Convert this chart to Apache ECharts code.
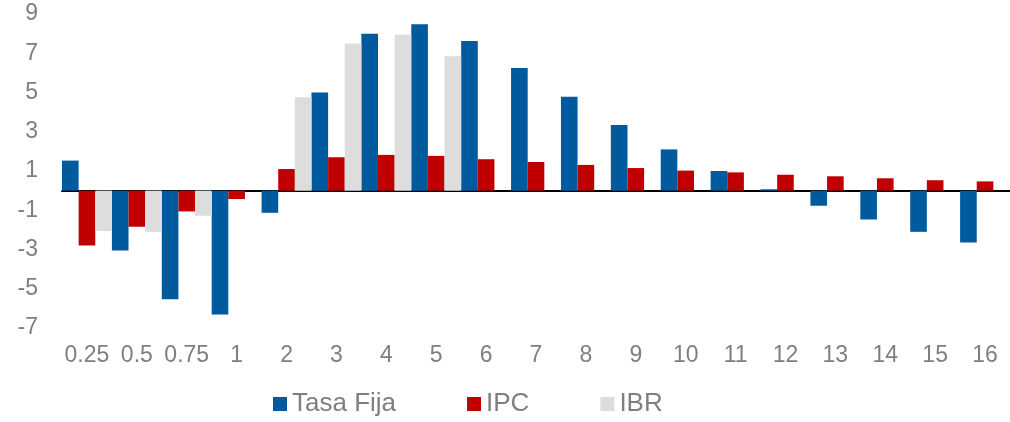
<!DOCTYPE html>
<html>
<head>
<meta charset="utf-8">
<script src="https://cdn.jsdelivr.net/npm/echarts@6/dist/echarts.min.js"></script>
<style>
  html, body { margin: 0; padding: 0; background: #fff; }
  #chart { width: 1010px; height: 422px; }
</style>
</head>
<body>
<div id="chart"></div>
<script>
// Plazos (años)
const categories = ['0.25', '0.5', '0.75', '1', '2', '3', '4', '5', '6', '7', '8', '9', '10', '11', '12', '13', '14', '15', '16'];

// Variación por nodo de la curva
const tasaFija = [1.53, -3.05, -5.53, -6.31, -1.13, 5.0, 7.99, 8.48, 7.62, 6.25, 4.78, 3.35, 2.1, 1.0, 0.07, -0.77, -1.47, -2.1, -2.64];
const ipc = [-2.79, -1.84, -1.06, -0.43, 1.1, 1.7, 1.82, 1.77, 1.6, 1.46, 1.31, 1.15, 1.02, 0.93, 0.81, 0.73, 0.63, 0.53, 0.47];
const ibr = [-2.06, -2.1, -1.28, null, 4.76, 7.5, 7.94, 6.85, null, null, null, null, null, null, null, null, null, null, null];

// Etiquetas del eje vertical
const yTickLabels = [-7, -5, -3, -1, 1, 3, 5, 7, 9];

const textColor = '#7f7f7f';
const font = 'Liberation Sans, Arial, sans-serif';

const chart = echarts.init(document.getElementById('chart'), null, { renderer: 'canvas' });

function bar(name, data, color) {
  return {
    name: name,
    type: 'bar',
    data: data,
    barGap: '0%',
    barCategoryGap: '0%',
    itemStyle: { color: color },
    emphasis: { disabled: true }
  };
}

chart.setOption({
  animation: false,
  backgroundColor: '#ffffff',
  grid: { left: 62, right: 0, top: 14, bottom: 94, containLabel: false },
  legend: {
    bottom: 0,
    left: 268,
    itemWidth: 14,
    itemHeight: 14,
    itemGap: 71,
    icon: 'rect',
    textStyle: { color: textColor, fontSize: 26, fontFamily: font },
    data: ['Tasa Fija', 'IPC', 'IBR']
  },
  xAxis: {
    type: 'category',
    data: categories,
    axisLine: { onZero: true, lineStyle: { color: '#000000', width: 2 } },
    axisTick: { show: false },
    axisLabel: { color: textColor, fontSize: 23, fontFamily: font, margin: 16, interval: 0 },
    splitLine: { show: false }
  },
  yAxis: {
    type: 'value',
    min: -7,
    max: 9,
    interval: 1,
    axisLine: { show: false },
    axisTick: { show: false },
    splitLine: { show: false },
    axisLabel: {
      color: textColor,
      fontSize: 23,
      fontFamily: font,
      margin: 24,
      formatter: function (v) {
        return yTickLabels.indexOf(v) >= 0 ? String(v) : '';
      }
    }
  },
  series: [
    bar('Tasa Fija', tasaFija, '#005a9e'),
    bar('IPC', ipc, '#c00000'),
    bar('IBR', ibr, '#dddddd')
  ]
});
</script>
</body>
</html>
